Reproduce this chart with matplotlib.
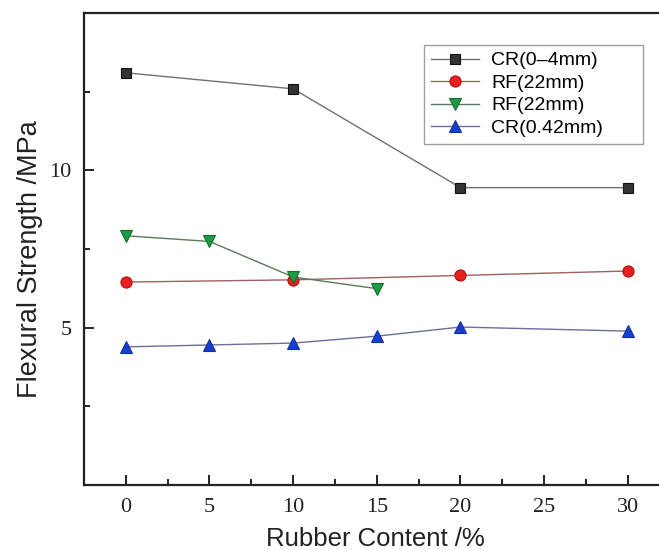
import matplotlib
matplotlib.use("Agg")
import matplotlib.pyplot as plt
from matplotlib.ticker import FixedLocator

# Data
x_cr04 = [0, 10, 20, 30]
y_cr04 = [13.10, 12.59, 9.45, 9.45]
x_rf1 = [0, 10, 20, 30]
y_rf1 = [6.45, 6.52, 6.66, 6.80]
x_rf2 = [0, 5, 10, 15]
y_rf2 = [7.92, 7.74, 6.61, 6.24]
x_cr042 = [0, 5, 10, 15, 20, 30]
y_cr042 = [4.39, 4.45, 4.51, 4.73, 5.02, 4.89]
labels = ["CR(0\u20134mm)", "RF(22mm)", "RF(22mm)", "CR(0.42mm)"]
x_ticks = [0, 5, 10, 15, 20, 25, 30]
y_ticks = [5, 10]

fig = plt.figure(figsize=(6.59, 5.5), dpi=100)
ax = fig.add_axes([84/659, 65/550, 594/659, 472/550])

ax.plot(x_cr04, y_cr04, color="#707070", lw=1.0, marker="s", ms=7,
        mfc="#333333", mec="#111111", mew=0.8, label=labels[0])
ax.plot(x_rf1, y_rf1, color="#a06060", lw=1.0, marker="o", ms=8,
        mfc="#e82020", mec="#b01010", mew=0.8, label=labels[1])
ax.plot(x_rf2, y_rf2, color="#5a7a5a", lw=1.0, marker="v", ms=9,
        mfc="#1e9a45", mec="#127030", mew=0.8, label=labels[2])
ax.plot(x_cr042, y_cr042, color="#6a6f9a", lw=1.0, marker="^", ms=9,
        mfc="#1840d0", mec="#10309a", mew=0.8, label=labels[3])

ax.set_xlim(-2.5, 33)
ax.set_ylim(0, 15)
ax.xaxis.set_major_locator(FixedLocator(x_ticks))
ax.xaxis.set_minor_locator(FixedLocator([2.5, 7.5, 12.5, 17.5, 22.5, 27.5, 32.5]))
ax.yaxis.set_major_locator(FixedLocator(y_ticks))
ax.yaxis.set_minor_locator(FixedLocator([2.5, 7.5, 12.5]))

for s in ["left", "bottom", "top"]:
    ax.spines[s].set_linewidth(1.6)
    ax.spines[s].set_color("#222222")
ax.spines["right"].set_visible(False)

ax.tick_params(which="both", direction="in", top=False, right=False, width=1.4, color="#222222")
ax.tick_params(which="major", length=7, pad=9, labelsize=16)
ax.tick_params(which="minor", length=4)
for lab in ax.get_xticklabels() + ax.get_yticklabels():
    lab.set_fontfamily("Liberation Serif")
    lab.set_color("#222222")

ax.set_xlabel("Rubber Content /%", fontsize=18.5, family="Liberation Sans", color="#222222")
ax.set_ylabel("Flexural Strength /MPa", fontsize=19.5, family="Liberation Sans", color="#222222")
ax.xaxis.label.set_va("center")
ax.yaxis.label.set_va("center")
ax.yaxis.label.set_ha("center")
ax.xaxis.set_label_coords((375-84)/594, (485-539)/472)
ax.yaxis.set_label_coords((30-84)/594, (485-259)/472)

x0 = (424-84)/594
w = (643-424)/594
y_top = (485-45)/472
h = (147-45)/472
leg = ax.legend(loc="upper left", bbox_to_anchor=(x0, y_top - h, w, h),
                mode="expand",
                prop={"family": "Liberation Sans", "size": 14},
                frameon=True, fancybox=False, edgecolor="#888888",
                handlelength=2.5, handletextpad=0.6, labelspacing=0.25,
                borderpad=0.35, borderaxespad=0)
leg.get_frame().set_linewidth(1.0)

fig.savefig("out.png", dpi=100)
